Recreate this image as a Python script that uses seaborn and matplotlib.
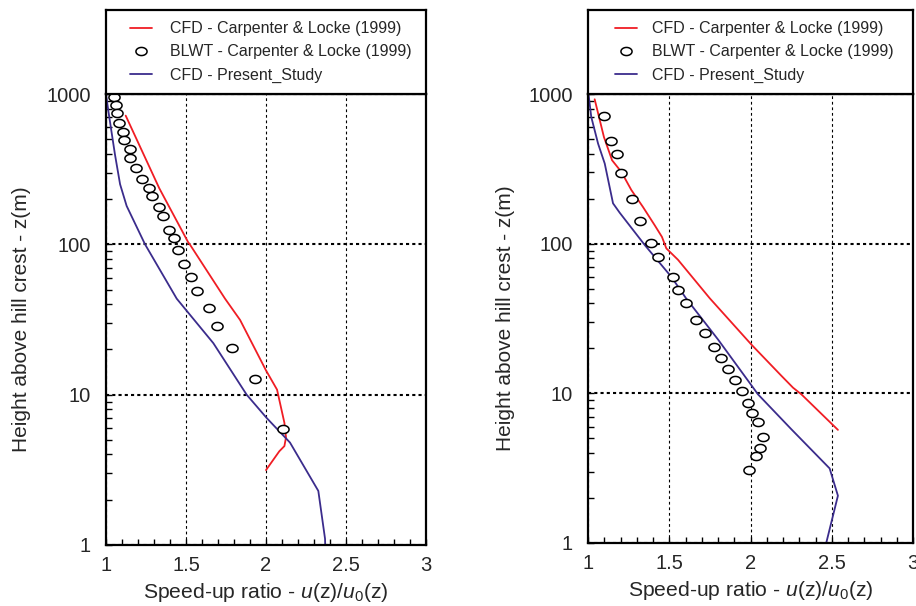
import numpy as np
import pandas as pd
import matplotlib
matplotlib.use("Agg")
import matplotlib.pyplot as plt
import seaborn as sns
from matplotlib.path import Path
from matplotlib.ticker import FixedLocator, FixedFormatter, MultipleLocator, LogLocator, NullFormatter
from matplotlib.lines import Line2D

# ---------------- data ----------------
# Left panel
left_blwt_x = [1.052, 1.062, 1.071, 1.083, 1.106, 1.113, 1.148, 1.148, 1.188, 1.223, 1.267, 1.29,
               1.329, 1.356, 1.396, 1.423, 1.45, 1.486, 1.529, 1.571, 1.642, 1.692, 1.79, 1.929, 2.106]
left_blwt_z = [955, 842, 751, 640, 560, 494, 428, 377, 323, 274, 236, 209,
               176, 154, 125, 110, 91, 74, 60.5, 49, 37.5, 28.7, 20.3, 12.7, 5.9]
left_cl_x = [1.123, 1.333, 1.514, 1.525, 1.744, 1.838, 2.0, 2.069, 2.115, 2.125, 2.115, 2.083, 2.0]
left_cl_z = [718, 236, 103, 99.5, 43.5, 31.4, 14.5, 10.8, 6.5, 5.2, 4.55, 4.2, 3.15]
left_ps_x = [1.0, 1.015, 1.056, 1.088, 1.129, 1.244, 1.442, 1.671, 1.879, 2.004, 2.15, 2.327, 2.369, 2.37]
left_ps_z = [1000, 767, 396, 251, 180, 100, 43.5, 22, 10, 7.0, 4.8, 2.29, 1.1, 1.0]

# Right panel
right_blwt_x = [1.096, 1.142, 1.178, 1.205, 1.271, 1.318, 1.386, 1.431, 1.521, 1.554, 1.603, 1.665,
                1.722, 1.775, 1.82, 1.86, 1.906, 1.946, 1.985, 2.011, 2.044, 2.077, 2.057, 2.034, 1.993]
right_blwt_z = [710, 486, 396, 297, 200, 142, 100.5, 82, 59.6, 49, 40.3, 30.7,
                25.2, 20.4, 17.1, 14.6, 12.2, 10.3, 8.67, 7.4, 6.45, 5.1, 4.3, 3.79, 3.08]
right_cl_x = [1.041, 1.098, 1.148, 1.205, 1.267, 1.338, 1.41, 1.455, 1.482, 1.554, 1.749, 2.005,
              2.19, 2.262, 2.313, 2.538]
right_cl_z = [922, 516, 361, 302, 228, 176, 133, 111, 93, 78, 43.2, 21.2, 13.1, 10.9, 9.85, 5.7]
right_ps_x = [1.004, 1.02, 1.062, 1.103, 1.154, 1.195, 1.349, 1.513, 1.603, 1.8, 2.046, 2.251,
              2.487, 2.538, 2.466]
right_ps_z = [980, 703, 466, 343, 186, 161, 98, 60, 43.2, 22.9, 9.85, 5.76, 3.15, 2.07, 1.0]

series_labels = ["CFD - Carpenter & Locke (1999)", "BLWT - Carpenter & Locke (1999)", "CFD - Present_Study"]
x_ticks = [1, 1.5, 2, 2.5, 3]
x_tick_labels = ["1", "1.5", "2", "2.5", "3"]
y_ticks = [1, 10, 100, 1000]
y_tick_labels = ["1", "10", "100", "1000"]
x_label = r"Speed-up ratio - $u$(z)/$u_0$(z)"
y_label = "Height above hill crest - z(m)"

# ---------------- style ----------------
sns.set_style("white")
plt.rcParams["font.family"] = ["Liberation Sans", "DejaVu Sans"]
plt.rcParams["mathtext.fontset"] = "custom"
plt.rcParams["mathtext.rm"] = "Liberation Sans"
plt.rcParams["mathtext.it"] = "Liberation Sans:italic"

RED = "#f01d24"
BLUE = "#3b2c8c"

theta = np.linspace(0, 2 * np.pi, 60)
ellipse = Path(np.column_stack([np.cos(theta), 0.73 * np.sin(theta)]), closed=True)

W, H = 916, 606
fig = plt.figure(figsize=(W / 100, H / 100), dpi=100)


def px_axes(x0, y0, x1, y1):
    return fig.add_axes([x0 / W, 1 - y1 / H, (x1 - x0) / W, (y1 - y0) / H])


panels = [
    dict(box=(106, 94, 426, 545), leg=(106, 10, 426, 94),
         blwt=(left_blwt_x, left_blwt_z), cl=(left_cl_x, left_cl_z), ps=(left_ps_x, left_ps_z),
         ylab_x=-0.235, leg_x=24 / 320, hl=1.4, htp=1.1),
    dict(box=(588, 94, 913, 543), leg=(588, 10, 913, 94),
         blwt=(right_blwt_x, right_blwt_z), cl=(right_cl_x, right_cl_z), ps=(right_ps_x, right_ps_z),
         ylab_x=-0.225, leg_x=27 / 325, hl=1.35, htp=0.95),
]

for p in panels:
    ax = px_axes(*p["box"])
    sns.lineplot(x=p["cl"][0], y=p["cl"][1], sort=False, estimator=None, color=RED, lw=1.3, ax=ax)
    sns.lineplot(x=p["ps"][0], y=p["ps"][1], sort=False, estimator=None, color=BLUE, lw=1.3, ax=ax)
    sns.scatterplot(x=p["blwt"][0], y=p["blwt"][1], marker=ellipse, s=64, facecolor="white",
                    edgecolor="black", linewidth=1.1, ax=ax, zorder=5)
    ax.set_yscale("log")
    ax.set_xlim(1, 3)
    ax.set_ylim(1, 1000)
    ax.xaxis.set_major_locator(FixedLocator(x_ticks))
    ax.xaxis.set_major_formatter(FixedFormatter(x_tick_labels))
    ax.xaxis.set_minor_locator(MultipleLocator(0.1))
    ax.yaxis.set_major_locator(FixedLocator(y_ticks))
    ax.yaxis.set_major_formatter(FixedFormatter(y_tick_labels))
    ax.yaxis.set_minor_locator(LogLocator(base=10, subs=np.arange(2, 10)))
    ax.yaxis.set_minor_formatter(NullFormatter())
    ax.tick_params(which="both", direction="in", bottom=True, left=True, top=False, right=False,
                   length=4, width=1.0, color="black", labelsize=14.5)
    ax.tick_params(axis="x", which="both", pad=8)
    ax.tick_params(axis="y", which="both", pad=11)
    ax.xaxis.grid(True, which="major", ls=(0, (2.5, 2.5)), lw=0.8, color="black")
    ax.yaxis.grid(True, which="major", ls=(0, (1.5, 1.5)), lw=1.5, color="black")
    ax.set_axisbelow(True)
    for s in ax.spines.values():
        s.set_linewidth(1.6)
        s.set_color("black")
    ax.set_xlabel(x_label, fontsize=15.2)
    ax.set_ylabel(y_label, fontsize=15)
    ax.xaxis.set_label_coords(0.5, -0.08)
    ax.yaxis.set_label_coords(p["ylab_x"], 0.5)

    lax = px_axes(*p["leg"])
    lax.set_xticks([])
    lax.set_yticks([])
    for s in lax.spines.values():
        s.set_linewidth(1.6)
        s.set_color("black")
    handles = [
        Line2D([], [], color=RED, lw=1.3),
        Line2D([], [], ls="none", marker=ellipse, markersize=8, markerfacecolor="white",
               markeredgecolor="black", markeredgewidth=1.1),
        Line2D([], [], color=BLUE, lw=1.3),
    ]
    lax.legend(handles, series_labels, loc="center left", bbox_to_anchor=(p["leg_x"], 0.5),
               frameon=False, fontsize=11.5, borderpad=0, borderaxespad=0,
               handlelength=p["hl"], handletextpad=p["htp"], labelspacing=0.5)

fig.savefig("out.png", dpi=100)
